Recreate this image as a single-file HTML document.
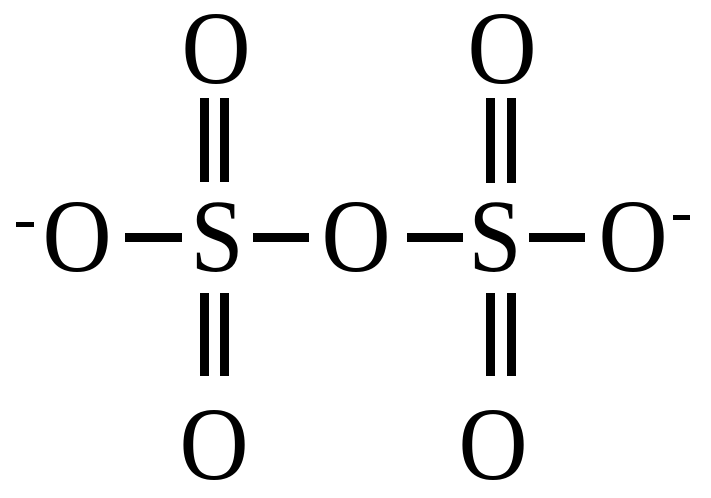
<!DOCTYPE html>
<html><head><meta charset="utf-8"><style>
html,body{margin:0;padding:0;background:#fff;}
svg{display:block;}
</style></head><body>
<svg width="711" height="498" viewBox="0 0 711 498" xmlns="http://www.w3.org/2000/svg">
<g fill="#000">
<rect x="200" y="98" width="9" height="84"/>
<rect x="220" y="98" width="9" height="84"/>
<rect x="200" y="293" width="9" height="83"/>
<rect x="220" y="293" width="9" height="83"/>
<rect x="486" y="98" width="9" height="85"/>
<rect x="507" y="98" width="9" height="85"/>
<rect x="486" y="293" width="9" height="83"/>
<rect x="507" y="293" width="9" height="83"/>
<rect x="125" y="233" width="57" height="9"/>
<rect x="253" y="233" width="56" height="9"/>
<rect x="407" y="233" width="56" height="9"/>
<rect x="529" y="233" width="56" height="9"/>
<rect x="16" y="222" width="18" height="5"/>
<rect x="673" y="215" width="17" height="5"/>
</g>
<g font-family="'Liberation Serif', 'Times New Roman', Times, serif" font-size="104" text-anchor="middle" fill="#000">
<text transform="translate(216,83) scale(0.92,1)">O</text>
<text transform="translate(77,271) scale(0.92,1)">O</text>
<text transform="translate(217,271) scale(0.92,1)">S</text>
<text transform="translate(356,271) scale(0.92,1)">O</text>
<text transform="translate(495,271) scale(0.92,1)">S</text>
<text transform="translate(633,271) scale(0.92,1)">O</text>
<text transform="translate(502,83) scale(0.92,1)">O</text>
<text transform="translate(214,479) scale(0.92,1)">O</text>
<text transform="translate(493,479) scale(0.92,1)">O</text>
</g>
</svg>
</body></html>
